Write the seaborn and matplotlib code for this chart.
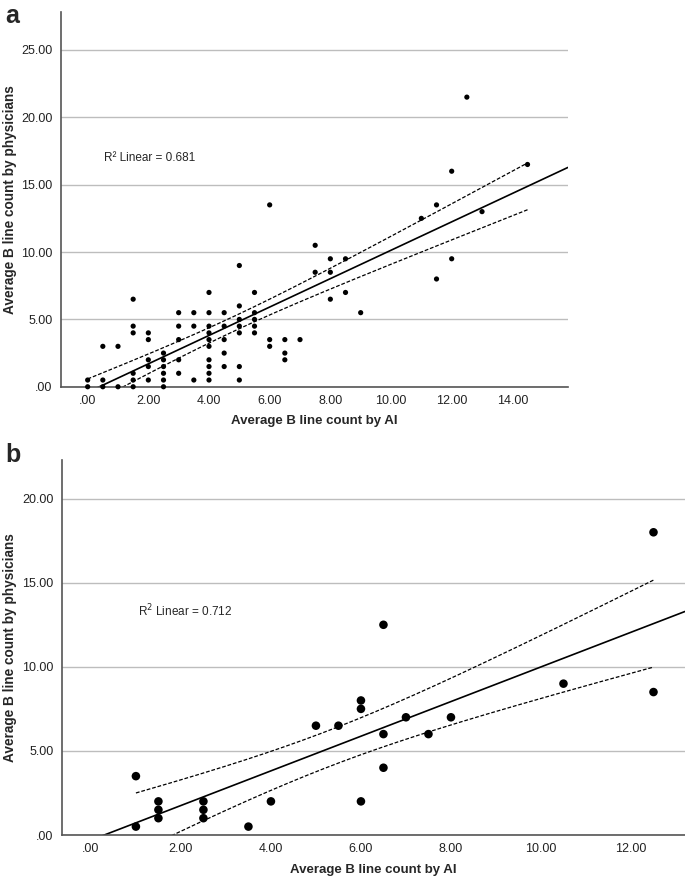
import numpy as np
import pandas as pd
import matplotlib
matplotlib.use("Agg")
import matplotlib.pyplot as plt
import seaborn as sns
from matplotlib.ticker import FuncFormatter, MultipleLocator

# Panel a: average B line counts (AI vs physicians)
ai_a = [0, 0,
        0.5, 0.5, 0.5,
        1, 1,
        1.5, 1.5, 1.5, 1.5, 1.5, 1.5,
        2, 2, 2, 2, 2,
        2.5, 2.5, 2.5, 2.5, 2.5, 2.5,
        3, 3, 3, 3, 3,
        3.5, 3.5, 3.5,
        4, 4, 4, 4, 4, 4, 4, 4, 4, 4,
        4.5, 4.5, 4.5, 4.5, 4.5,
        5, 5, 5, 5, 5, 5, 5,
        5.5, 5.5, 5.5, 5.5, 5.5,
        6, 6, 6,
        6.5, 6.5, 6.5,
        7,
        7.5, 7.5,
        8, 8, 8,
        8.5, 8.5,
        9,
        11,
        11.5, 11.5,
        12, 12,
        12.5,
        13,
        14.5]
phys_a = [0, 0.5,
          0, 0.5, 3.0,
          0, 3.0,
          6.5, 4.5, 4.0, 1.0, 0.5, 0,
          4.0, 3.5, 2.0, 1.5, 0.5,
          2.5, 2.0, 1.5, 1.0, 0.5, 0,
          5.5, 4.5, 3.5, 2.0, 1.0,
          5.5, 4.5, 0.5,
          7.0, 5.5, 4.5, 4.0, 3.5, 3.0, 2.0, 1.5, 1.0, 0.5,
          5.5, 4.5, 3.5, 2.5, 1.5,
          9.0, 6.0, 5.0, 4.5, 4.0, 1.5, 0.5,
          7.0, 5.5, 5.0, 4.5, 4.0,
          13.5, 3.5, 3.0,
          3.5, 2.5, 2.0,
          3.5,
          10.5, 8.5,
          9.5, 8.5, 6.5,
          9.5, 7.0,
          5.5,
          12.5,
          13.5, 8.0,
          16.0, 9.5,
          21.5,
          13.0,
          16.5]

# Panel b
ai_b = [1, 1, 1.5, 1.5, 1.5, 2.5, 2.5, 2.5, 3.5, 4, 5, 5.5,
        6, 6, 6, 6.5, 6.5, 6.5, 7, 7.5, 8, 10.5, 12.5, 12.5]
phys_b = [3.5, 0.5, 2, 1.5, 1, 2, 1.5, 1, 0.5, 2, 6.5, 6.5,
          8, 7.5, 2, 12.5, 6, 4, 7, 6, 7, 9, 18, 8.5]

r2_labels = ["R\u00b2 Linear = 0.681", "R$^2$ Linear = 0.712"]
# two-sided 95% t quantiles for n-2 degrees of freedom
t_crit = [1.990, 2.074]

sns.set_style("white")
plt.rcParams["font.family"] = ["Liberation Sans", "DejaVu Sans"]

fig = plt.figure(figsize=(6.85, 8.81), dpi=100)
ax_a = fig.add_axes([0.089, 0.561, 0.740, 0.4257])
ax_b = fig.add_axes([0.090, 0.0522, 0.910, 0.4257])


def fmt(v, _):
    return ".00" if abs(v) < 1e-9 else f"{v:.2f}"


def panel(ax, x, y, xlim, ylim, msize, tval, label, label_xy, ylab_x):
    df = pd.DataFrame({"ai": x, "phys": y})
    ax.set_xlim(*xlim)
    ax.set_ylim(*ylim)
    sns.scatterplot(data=df, x="ai", y="phys", ax=ax, color="black",
                    s=msize, edgecolor="none", clip_on=False, zorder=3)
    # fit line across the whole axis (SPSS style)
    sns.regplot(data=df, x="ai", y="phys", ax=ax, scatter=False, ci=None,
                truncate=False, line_kws={"color": "black", "lw": 1.2})
    # 95% CI of the mean, over the data range
    xa = np.asarray(x, float)
    ya = np.asarray(y, float)
    n = len(xa)
    b1, b0 = np.polyfit(xa, ya, 1)
    resid = ya - (b0 + b1 * xa)
    s = np.sqrt(np.sum(resid ** 2) / (n - 2))
    xx = np.linspace(xa.min(), xa.max(), 200)
    se = s * np.sqrt(1 / n + (xx - xa.mean()) ** 2 / np.sum((xa - xa.mean()) ** 2))
    yy = b0 + b1 * xx
    for band in (yy + tval * se, yy - tval * se):
        ax.plot(xx, band, color="black", lw=0.9, ls=(0, (3, 1.5)))
    ax.set_xlim(*xlim)
    ax.set_ylim(*ylim)

    ax.text(label_xy[0], label_xy[1], label, fontsize=8.5, va="center")

    ax.xaxis.set_major_locator(MultipleLocator(2))
    ax.yaxis.set_major_locator(MultipleLocator(5))
    ax.xaxis.set_major_formatter(FuncFormatter(fmt))
    ax.yaxis.set_major_formatter(FuncFormatter(fmt))
    ax.tick_params(length=0, labelsize=9, pad=6, colors="#222222")
    ax.yaxis.grid(True, color="#bdbdbd", lw=1)
    ax.set_axisbelow(True)
    for side in ("top", "right"):
        ax.spines[side].set_visible(False)
    for side in ("left", "bottom"):
        ax.spines[side].set_color("#555555")
        ax.spines[side].set_linewidth(1.2)
    ax.set_xlabel("Average B line count by AI", fontsize=9.5,
                  fontweight="bold", labelpad=6)
    ax.set_ylabel("Average B line count by physicians", fontsize=9.8,
                  fontweight="bold")
    ax.yaxis.set_label_coords(ylab_x, 0.5)


panel(ax_a, ai_a, phys_a, (-0.88, 15.83), (0, 27.84), 14, t_crit[0],
      r2_labels[0], (0.55, 17.0), -0.087)
panel(ax_b, ai_b, phys_b, (-0.65, 13.2), (0, 22.3), 38, t_crit[1],
      r2_labels[1], (1.05, 13.3), -0.072)

fig.text(0.008, 0.982, "a", fontsize=18, fontweight="bold", va="center")
fig.text(0.008, 0.484, "b", fontsize=18, fontweight="bold", va="center")

fig.savefig("out.png", dpi=100)
